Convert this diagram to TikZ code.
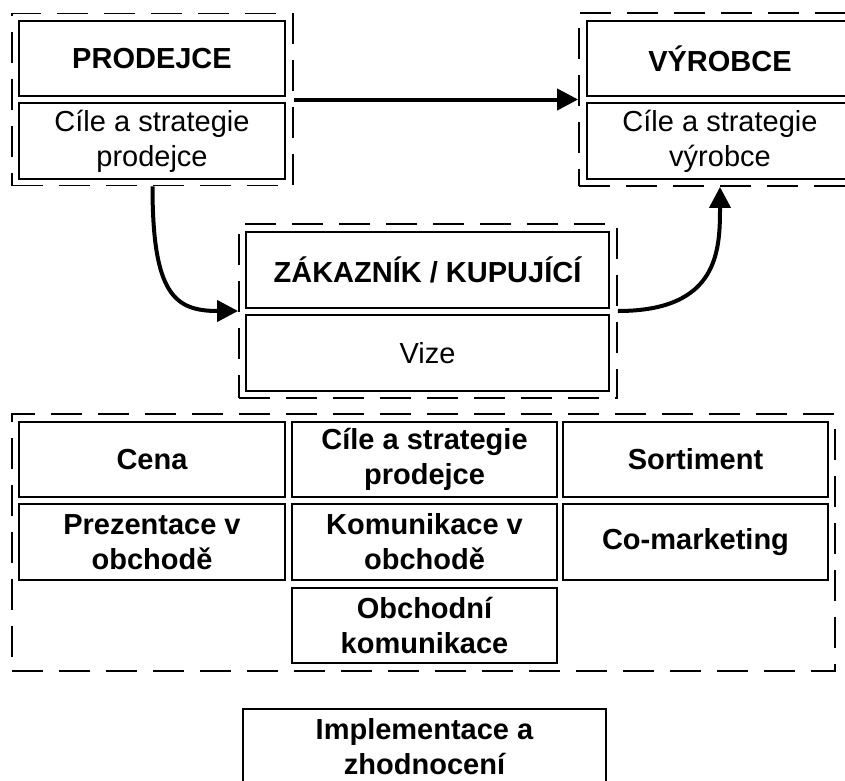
\documentclass[tikz,border=0pt]{standalone}
\usepackage{fontspec}
\setmainfont{Liberation Sans}
\usetikzlibrary{arrows.meta}
\begin{document}
\begin{tikzpicture}[x=1pt,y=-1pt,
  box/.style={draw, line width=1.8pt, align=center, inner sep=0pt,
    font=\fontsize{29}{35}\selectfont},
  head/.style={box, font=\fontsize{29}{35}\selectfont\bfseries},
  colw/.style={minimum width=#1pt},
  rowh/.style={minimum height=#1pt},
  grp/.style={draw, line width=1.8pt, dash pattern=on 31pt off 16pt, inner sep=0pt},
  flow/.style={line width=4pt, -{Triangle[length=21pt,width=21pt]}}]

% page frame (content beyond it is cut off)
\path[use as bounding box, clip] (0,0) rectangle (845,780);
\fill[white] (0,0) rectangle (845,780);

% dashed groups
\node[grp, minimum width=281pt, minimum height=172pt] (gProd) at (152.5,99.5) {};
\node[grp, minimum width=282pt, minimum height=173pt] (gVyr) at (720,99.5) {};
\node[grp, minimum width=378pt, minimum height=174pt] (gZak) at (428,311) {};
\node[grp, minimum width=823pt, minimum height=257pt] (gMix) at (423.5,542.5) {};

% seller
\node[head, colw=266, rowh=75] (prodHead) at (152,58.5) {PRODEJCE};
\node[box, colw=266, rowh=76] (prodCil) at (152,141) {Cíle a strategie\\prodejce};

% producer
\node[head, colw=266, rowh=75] (vyrHead) at (720,58.5) {VÝROBCE};
\node[box, colw=266, rowh=76] (vyrCil) at (720,141) {Cíle a strategie\\výrobce};

% customer
\node[head, colw=363, rowh=76] (zakHead) at (427.5,270) {ZÁKAZNÍK / KUPUJÍCÍ};
\node[box, colw=363, rowh=76] (zakVize) at (427.5,353) {Vize};

% marketing mix grid
\node[head, colw=266, rowh=75] (cena) at (152,459.5) {Cena};
\node[head, colw=265, rowh=75] (cile) at (424.5,459.5) {Cíle a strategie\\prodejce};
\node[head, colw=265, rowh=75] (sort) at (695.5,459.5) {Sortiment};
\node[head, colw=266, rowh=76] (prez) at (152,542) {Prezentace v\\obchodě};
\node[head, colw=265, rowh=76] (komu) at (424.5,542) {Komunikace v\\obchodě};
\node[head, colw=265, rowh=76] (comk) at (695.5,542) {Co-marketing};
\node[head, colw=265, rowh=75] (obch) at (424.5,625.5) {Obchodní\\komunikace};

% implementation
\node[head, colw=363, rowh=76] (impl) at (424.5,747) {Implementace a\\zhodnocení};

% connectors
\draw[flow] (gProd.east) -- (gVyr.west);
\draw[flow] (gProd.south) .. controls (152.5,295) and (175,311) .. (gZak.west);
\draw[flow] (gZak.east) .. controls (719,311) and (720,250) .. (gVyr.south);
\end{tikzpicture}
\end{document}
